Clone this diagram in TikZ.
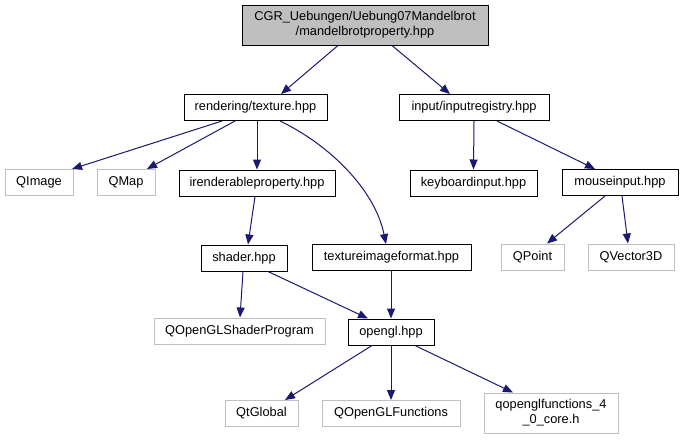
\documentclass[tikz,border=0pt]{standalone}
\usepackage{fontspec}
\setmainfont{Liberation Sans}
\usepackage{tikz}
\usetikzlibrary{arrows.meta,positioning}
\definecolor{edgeblue}{RGB}{25,25,112}
\definecolor{boxgray}{RGB}{191,191,191}

\begin{document}
\begin{tikzpicture}[x=1pt,y=-1pt,
  file/.style={draw=black,line width=1pt,inner sep=0pt,minimum height=26pt,
    font=\fontsize{12.8}{15}\selectfont,align=center},
  ext/.style={file,draw=boxgray},
  dep/.style={edgeblue,line width=1pt,-{Triangle[length=10pt,width=8pt]}}]
 \useasboundingbox (0,0) rectangle (682,440);
 % included file
 \node[file,fill=boxgray,minimum width=246pt,minimum height=40pt] (main) at (365,25)
      {CGR\_Uebungen/Uebung07Mandelbrot\\/mandelbrotproperty.hpp};
 % project headers
 \foreach \nm/\cx/\cy/\w/\txt in {texture/255.5/107.5/143/{rendering/texture.hpp},
     inputreg/474/107.5/150/{input/inputregistry.hpp},
     irend/257/183/156/irenderableproperty.hpp, keyboard/473.5/183/127/keyboardinput.hpp,
     mouse/620/182.5/116/mouseinput.hpp, shader/244/258/86/shader.hpp,
     tfmt/391.5/257.5/159/textureimageformat.hpp, opengl/391/332/86/opengl.hpp}{
   \node[file,minimum width=\w pt] (\nm) at (\cx,\cy) {\txt};
 }
 % system headers
 \foreach \nm/\cx/\cy/\w/\txt in {QImage/39/182.5/68/QImage, QMap/126/182.5/58/QMap,
     QPoint/532.5/257/63/QPoint, QVector/631/257/86/QVector3D,
     QShader/239.5/331/171/QOpenGLShaderProgram, QtGlobal/261.5/413.5/73/QtGlobal,
     QFunc/391/413.5/138/QOpenGLFunctions}{
   \node[ext,minimum width=\w pt] (\nm) at (\cx,\cy) {\txt};
 }
 \node[ext,minimum width=134pt,minimum height=40pt] (qcore) at (551,413)
      {qopenglfunctions\_4\\\_0\_core.h};
 % includes
 \foreach \a/\da/\b/\db in {main/-27/texture/25.5, main/27/inputreg/-24,
     texture/-33.5/QImage/33, texture/-20.5/QMap/21, texture/1.5/irend/0,
     inputreg/0/keyboard/0, inputreg/23/mouse/-25, mouse/-15/QPoint/14.5,
     mouse/2/QVector/-3, irend/-2/shader/4, shader/-1/QShader/0.5,
     shader/24/opengl/-23, tfmt/-0.5/opengl/0, opengl/-19/QtGlobal/23.5,
     opengl/0/QFunc/0, opengl/24/qcore/-38}{
   \draw[dep] ([xshift=\da pt]\a.south) -- ([xshift=\db pt]\b.north);
 }
 \draw[dep] ([xshift=24.5pt]texture.south) .. controls +(50,24) and +(-11,-54)
      .. ([xshift=-5.5pt]tfmt.north);
\end{tikzpicture}
\end{document}
